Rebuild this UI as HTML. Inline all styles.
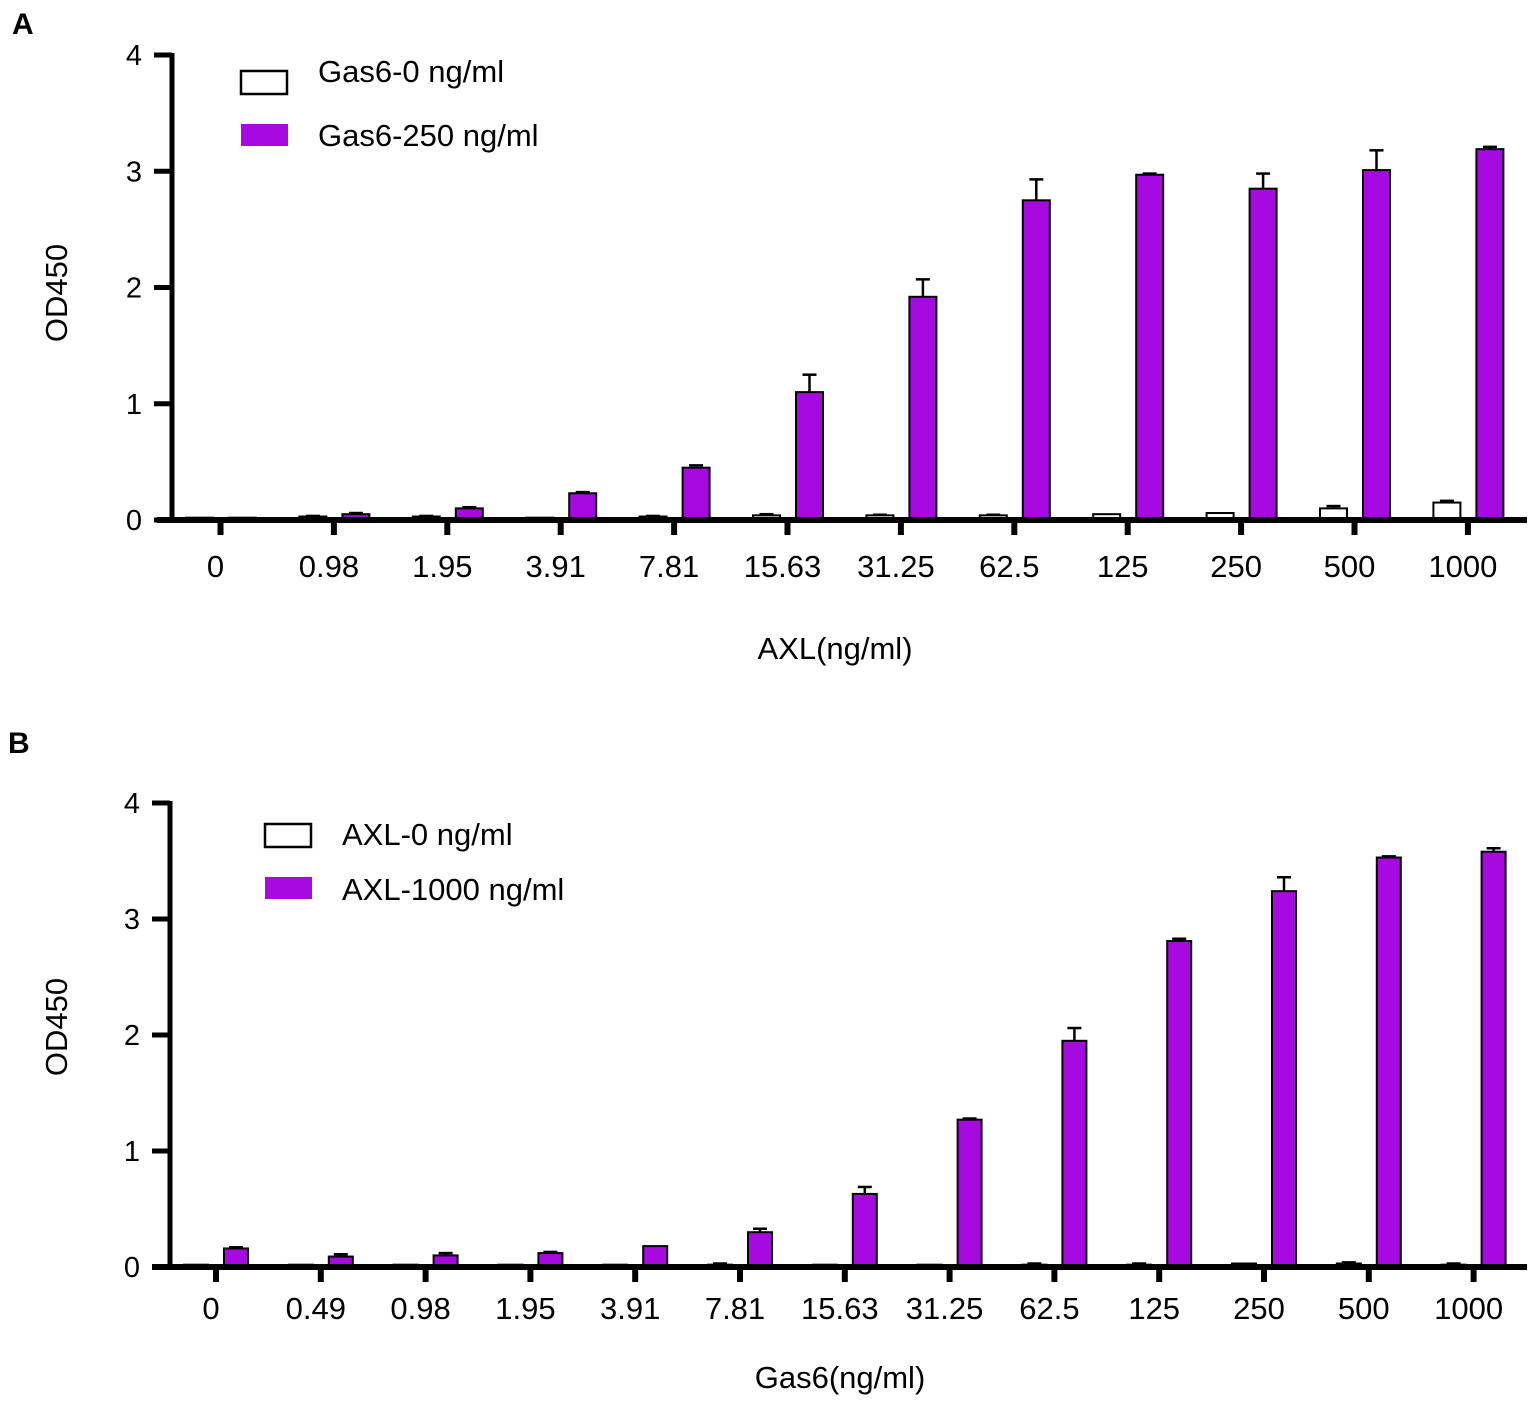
<!DOCTYPE html>
<html><head><meta charset="utf-8"><style>
html,body{margin:0;padding:0;background:#fff;}
svg text{font-family:"Liberation Sans",Arial,sans-serif;fill:#000;}
</style></head><body>
<svg id="s" width="1535" height="1401" viewBox="0 0 1535 1401" xmlns="http://www.w3.org/2000/svg">
<text x="12" y="34" font-size="30" font-weight="bold">A</text>
<text x="8" y="753" font-size="30" font-weight="bold">B</text>
</svg>
<script>
const catsA=["0","0.98","1.95","3.91","7.81","15.63","31.25","62.5","125","250","500","1000"];
const whiteA=[0.02,0.03,0.03,0.02,0.03,0.04,0.04,0.04,0.05,0.06,0.10,0.15];
const whiteErrA=[0,0.005,0.005,0,0.005,0.01,0.005,0.005,0,0,0.02,0.015];
const purpleA=[0.02,0.05,0.10,0.23,0.45,1.10,1.92,2.75,2.97,2.85,3.01,3.19];
const purpleErrA=[0,0.01,0.01,0.01,0.02,0.15,0.15,0.18,0.01,0.13,0.17,0.02];
const catsB=["0","0.49","0.98","1.95","3.91","7.81","15.63","31.25","62.5","125","250","500","1000"];
const whiteB=[0.02,0.02,0.02,0.02,0.02,0.02,0.02,0.02,0.02,0.02,0.03,0.03,0.02];
const whiteErrB=[0,0,0,0,0,0.01,0,0,0.01,0.01,0,0.01,0.01];
const purpleB=[0.16,0.09,0.10,0.12,0.18,0.30,0.63,1.27,1.95,2.81,3.24,3.53,3.58];
const purpleErrB=[0.01,0.02,0.02,0.01,0,0.03,0.06,0.01,0.11,0.02,0.12,0.01,0.03];
const yTicks=[0,1,2,3,4];
const svg=document.getElementById('s');
const NS='http://www.w3.org/2000/svg';
function mk(tag,attrs,parent){const e=document.createElementNS(NS,tag);for(const k in attrs)e.setAttribute(k,attrs[k]);(parent||svg).appendChild(e);return e;}
const PURPLE='#a70ae0';
function panel(p){
  const g=mk('g',{});
  
  
  const y=v=>p.y0-(v/4)*(p.y0-p.y4);
  const x=i=>p.t0+i*p.step;
  p.cats.forEach((c,i)=>{
    [[p.white,p.werr,'#fff',p.wOff,'white'],[p.purple,p.perr,PURPLE,p.pOff,'purple']].forEach(s=>{
      const v=s[0][i],e=s[1][i],cx=x(i)+s[3],w=p.bw;
      if(e>0){
        const l=mk('line',{x1:cx,x2:cx,y1:y(v),y2:y(v+e),stroke:'#000','stroke-width':2.5},g);
        
        
        const cap=mk('line',{x1:cx-7,x2:cx+7,y1:y(v+e),y2:y(v+e),stroke:'#000','stroke-width':2.5},g);
        
        
      }
      const r=mk('rect',{x:cx-w/2,y:y(v),width:w,height:Math.max(0.5,y(0)-y(v)),fill:s[2],stroke:'#000','stroke-width':2},g);
      
      
    });
  });
  const ya=mk('line',{x1:p.ax,x2:p.ax,y1:p.y4-2,y2:p.y0,stroke:'#000','stroke-width':5},g);
  
  
  const xa=mk('line',{x1:p.xs,x2:1527,y1:p.y0,y2:p.y0,stroke:'#000','stroke-width':6},g);
  
  
  yTicks.forEach(t=>{
    const tl=mk('line',{x1:p.ax-18,x2:p.ax,y1:y(t),y2:y(t),stroke:'#000','stroke-width':5},g);
    
    
    const tx=mk('text',{x:p.ax-30,y:y(t)+10,'font-size':29,'text-anchor':'end'},g);
    tx.textContent=t;
    
    
  });
  p.cats.forEach((c,i)=>{
    const tl=mk('line',{x1:x(i),x2:x(i),y1:p.y0,y2:p.y0+15,stroke:'#000','stroke-width':6},g);
    
    
    const tx=mk('text',{x:x(i)-5,y:p.y0+p.lbOff,'font-size':31,'text-anchor':'middle'},g);
    tx.textContent=c;
    
    
  });
  const yt=mk('text',{x:0,y:0,'font-size':31,'text-anchor':'middle',transform:'translate('+p.ylx+','+p.yly+') rotate(-90)'},g);
  yt.textContent='OD450';
  
  
  const xt=mk('text',{x:p.xtx,y:p.xty,'font-size':31,'text-anchor':'middle'},g);
  xt.textContent=p.xtitle;
  
  
  const l1=mk('rect',{x:p.lx,y:p.ly1,width:46,height:23,fill:'#fff',stroke:'#000','stroke-width':2.5},g);
  
  
  const t1=mk('text',{x:p.lx+77,y:p.tb1,'font-size':31},g);
  t1.textContent=p.leg[0];
  
  
  const l2=mk('rect',{x:p.lx,y:p.ly2,width:47,height:22,fill:PURPLE},g);
  
  
  const t2=mk('text',{x:p.lx+77,y:p.tb2,'font-size':31},g);
  t2.textContent=p.leg[1];
  
  
}
panel({name:'panel-a',cats:catsA,white:whiteA,werr:whiteErrA,purple:purpleA,perr:purpleErrA,
  y0:520,y4:55,t0:220.5,step:113.4,wOff:-21,pOff:22,bw:27,ax:172,xs:157,ylx:67,yly:293,lbOff:57,
  xtitle:'AXL(ng/ml)',xtx:835,xty:659,lx:241,ly1:71,ly2:124,tb1:82,tb2:146,leg:['Gas6-0 ng/ml','Gas6-250 ng/ml']});
panel({name:'panel-b',cats:catsB,white:whiteB,werr:whiteErrB,purple:purpleB,perr:purpleErrB,
  y0:1267,y4:803,t0:216,step:104.8,wOff:-20,pOff:20,bw:24,ax:170,xs:152,ylx:67,yly:1027,lbOff:52,
  xtitle:'Gas6(ng/ml)',xtx:840,xty:1388,lx:265,ly1:824,ly2:877,tb1:845,tb2:900,leg:['AXL-0 ng/ml','AXL-1000 ng/ml']});
</script>
</body></html>
